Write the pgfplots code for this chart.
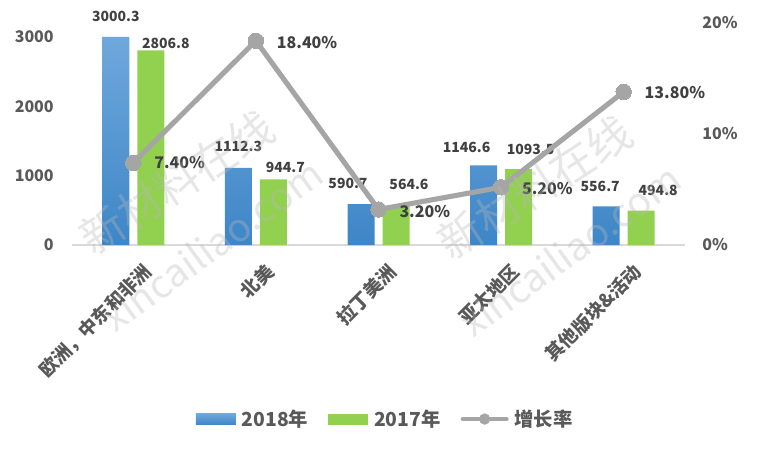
\documentclass[border=0pt]{standalone}
\usepackage{fontspec}
\setmainfont{Noto Sans CJK SC}
\usepackage{pgfplots}
\usepackage{pgfplotstable}
\pgfplotsset{compat=1.18}
\definecolor{tickgray}{HTML}{595959}
\definecolor{lblgray}{HTML}{404040}
\definecolor{blueT}{HTML}{6FA8DC}
\definecolor{blueB}{HTML}{3E86C7}
\definecolor{greenbar}{HTML}{92D050}
\definecolor{linegray}{HTML}{A5A5A5}
\definecolor{axisgray}{HTML}{D9D9D9}
\definecolor{wm}{HTML}{B8B8B8}

\pgfplotstableread{
x y dx dy label
0 3000.3 -13.125 15 3000.3
1 1112.3 -13.125 15.75 1112.3
2 590.7 -22.875 15.75 590.7
3 1146.6 -25.875 13.5 1146.6
4 556.7 -17.625 15 556.7
}\blueData

\pgfplotstableread{
x y dx dy label
0 2806.8 24.375 5.25 2806.8
1 944.7 22.125 9.4 944.7
2 564.6 22.875 15.75 564.6
3 1093.5 22.125 15 1093.5
4 494.8 25.875 15 494.8
}\greenData

\pgfplotstableread{
x y dy label
0 7.4 0 7.40
1 18.4 -1.5 18.40
2 3.2 -1.5 3.20
3 5.2 -1 5.20
4 13.8 -0.75 13.80
}\rateData

\begin{document}
\begin{tikzpicture}
\useasboundingbox (0,0) rectangle (568.5pt,338.25pt);

\begin{axis}[
  at={(54pt,154.5pt)}, anchor=south west,
  scale only axis, width=459.75pt, height=166.5pt,
  xmin=-0.5, xmax=4.5, ymin=0, ymax=3200,
  axis x line*=bottom, axis y line*=left,
  y axis line style={draw=none},
  x axis line style={draw=axisgray, line width=1.5pt, -},
  major tick length=0pt,
  xtick={0,1,2,3,4},
  xticklabels={{欧洲，中东和非洲},{北美},{拉丁美洲},{亚太地区},{其他版块\&活动}},
  xticklabel style={rotate=45, anchor=north east, inner sep=0pt, yshift=-13pt, xshift=-4.5pt,
    font=\bfseries\fontsize{14}{14}\selectfont, text=tickgray},
  ytick={0,1000,2000,3000},
  scaled y ticks=false,
  /pgf/number format/assume math mode=true,
  /pgf/number format/1000 sep={},
  yticklabel style={anchor=east, inner sep=0pt, xshift=-13.5pt,
    font=\bfseries\fontsize{12}{12}\selectfont, text=tickgray},
  clip=false,
]
\addplot[ybar, bar width=20.25pt, bar shift=-13.125pt, draw=none,
  top color=blueT, bottom color=blueB,
  nodes near coords, point meta=explicit symbolic,
  visualization depends on={\thisrow{dx} \as \mydx},
  visualization depends on={\thisrow{dy} \as \mydy},
  nodes near coords style={anchor=center, inner sep=0pt, xshift=\mydx pt, yshift=\mydy pt,
    font=\bfseries\fontsize{10.5}{10.5}\selectfont, text=lblgray}]
  table[x=x, y=y, meta=label] {\blueData};
\addplot[ybar, bar width=20.25pt, bar shift=13.125pt, draw=none,
  fill=greenbar,
  nodes near coords, point meta=explicit symbolic,
  visualization depends on={\thisrow{dx} \as \mydx},
  visualization depends on={\thisrow{dy} \as \mydy},
  nodes near coords style={anchor=center, inner sep=0pt, xshift=\mydx pt, yshift=\mydy pt,
    font=\bfseries\fontsize{10.5}{10.5}\selectfont, text=lblgray}]
  table[x=x, y=y, meta=label] {\greenData};
\end{axis}

\begin{axis}[
  at={(54pt,154.5pt)}, anchor=south west,
  scale only axis, width=459.75pt, height=166.5pt,
  xmin=-0.5, xmax=4.5, ymin=0, ymax=20,
  axis x line=none, axis y line*=right,
  y axis line style={draw=none},
  major tick length=0pt,
  ytick={0,10,20},
  /pgf/number format/assume math mode=true,
  yticklabel={\pgfmathprintnumber{\tick}\%},
  yticklabel style={anchor=west, inner sep=0pt, xshift=12.75pt,
    font=\bfseries\fontsize{12}{12}\selectfont, text=tickgray},
  clip=false,
  legend columns=3,
  legend style={at={(0.5115,-0.784)}, anchor=center, draw=none, fill=none,
    font=\bfseries\fontsize{14.5}{14.5}\selectfont, text=tickgray,
    /tikz/every even column/.append style={column sep=13pt},
    /tikz/every odd column/.append style={column sep=2.5pt}},
]
\addlegendimage{legend image code/.code={\path[draw=none, top color=blueT, bottom color=blueB] (0pt,-4.1pt) rectangle (30pt,4.1pt);}}
\addlegendentry{2018年}
\addlegendimage{legend image code/.code={\path[draw=none, fill=greenbar] (0pt,-4.1pt) rectangle (30pt,4.1pt);}}
\addlegendentry{2017年}
\addlegendimage{legend image code/.code={\draw[linegray, line width=3pt, line cap=round] (0pt,0pt) -- (33pt,0pt); \fill[linegray] (16.5pt,0pt) circle (4pt);}}
\addlegendentry{增长率}
\addplot[forget plot, linegray, line width=3.8pt, mark=*, mark size=5.8pt,
  mark options={fill=linegray, draw=linegray, line width=0pt},
  nodes near coords={\pgfplotspointmeta\%}, point meta=explicit symbolic,
  visualization depends on={\thisrow{dy} \as \mydy},
  nodes near coords style={anchor=west, inner sep=0pt, xshift=15.75pt, yshift=\mydy pt,
    font=\bfseries\fontsize{12}{12}\selectfont, text=lblgray}]
  table[x=x, y=y, meta=label] {\rateData};
\end{axis}

% watermark (semi-transparent, on top)
\begin{scope}[text opacity=0.35]
\node[rotate=33, text=wm, font=\fontsize{33}{33}\selectfont] at (132.75pt,201.75pt) {新材料在线};
\node[rotate=36, text=wm, font=\fontsize{29}{29}\selectfont] at (159pt,154.5pt) {xincailiao.com};
\node[rotate=33, text=wm, font=\fontsize{33}{33}\selectfont] at (401.25pt,198pt) {新材料在线};
\node[rotate=36, text=wm, font=\fontsize{29}{29}\selectfont] at (427.5pt,150.75pt) {xincailiao.com};
\end{scope}
\end{tikzpicture}
\end{document}
